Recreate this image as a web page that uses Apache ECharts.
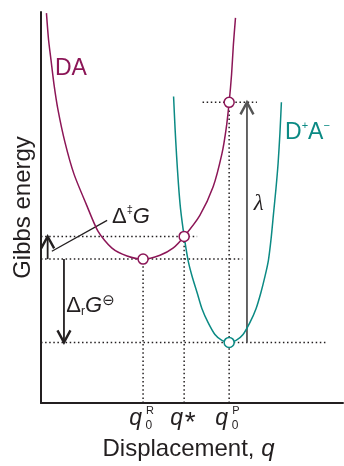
<!DOCTYPE html>
<html><head><meta charset="utf-8">
<script src="https://cdn.jsdelivr.net/npm/echarts@6/dist/echarts.min.js"></script>
<style>html,body{margin:0;padding:0;background:#fff}#c{width:344px;height:466px}</style>
</head><body><div id="c"></div>
<script>
// ---- data (arbitrary units: displacement 0-100, energy 0-100) ----
const daX = [1.8, 2.5, 3.3, 4.3, 5.6, 7.9, 10.9, 14.9, 18.9, 23.5, 28.5, 33.8, 39.4, 43.7, 47.4, 52.6, 57.0, 59.9, 61.3, 62.3, 63.1, 63.7, 64.4];
const daY = [99.7, 92.9, 87.8, 81.5, 75.1, 66.8, 58.6, 51.0, 43.9, 39.6, 37.6, 36.8, 37.8, 39.6, 42.6, 48.0, 55.3, 63.7, 70.1, 76.9, 84.0, 91.6, 98.5];
const dapX = [43.9, 44.4, 44.9, 45.5, 46.2, 47.4, 48.7, 50.0, 51.7, 53.3, 55.3, 57.6, 59.9, 62.3, 64.6, 66.9, 69.2, 71.2, 72.8, 74.2, 75.3, 76.2, 77.0, 77.8, 78.5, 79.1, 79.6];
const dapY = [78.4, 70.1, 63.2, 56.1, 49.7, 42.6, 36.5, 32.5, 28.2, 24.1, 20.6, 17.5, 16.0, 15.5, 16.0, 17.5, 20.6, 24.1, 28.2, 32.5, 36.5, 42.1, 48.5, 54.8, 61.2, 68.8, 76.9];
// marked points
const daMarkX = [33.8, 47.4, 62.3];
const daMarkY = [36.8, 42.6, 76.9];
const dapMarkX = [62.3];
const dapMarkY = [15.5];
// dotted guides
const hGuideY = [42.6, 36.8, 15.5, 76.9];
const hGuideFrom = [0, 0, 0, 53.5];
const hGuideTo = [51.7, 66.7, 94.2, 71.5];
const vGuideX = [33.8, 47.4, 62.3];
const vGuideTop = [36.8, 42.6, 76.9];
// arrows: x, from, to (head at "to")
const arrowX = [68.2, 7.6, 2.2];
const arrowFrom = [15.5, 36.8, 36.8];
const arrowTo = [76.9, 15.5, 42.6];
// leader line for the activation label
const leaderX = [3.6, 21.9];
const leaderY = [38.8, 46.7];
// x tick labels
const tickValues = [33.8, 47.4, 62.3];
const tickBase = ['q', 'q', 'q'];
const tickSub = ['0', '', '0'];
const tickSup = ['R', '*', 'P'];

const FONT = "'Liberation Sans', Arial, Helvetica, sans-serif";
const DA_COLOR = '#8c1657';
const DAP_COLOR = '#0b8a84';
const INK = '#231f20';
const GRAY = '#555555';

const chart = echarts.init(document.getElementById('c'), null, {renderer: 'canvas'});
const series = [];
hGuideY.forEach((y, i) => series.push({
  type: 'line', data: [[hGuideFrom[i], y], [hGuideTo[i], y]], symbol: 'none', silent: true, z: 1,
  lineStyle: {color: INK, width: 1.5, type: [1.5, 2.6]}
}));
vGuideX.forEach((x, i) => series.push({
  type: 'line', data: [[x, 0], [x, vGuideTop[i]]], symbol: 'none', silent: true, z: 1,
  lineStyle: {color: INK, width: 1.5, type: [1.5, 2.6]}
}));
const arrowColors = [GRAY, INK, INK];
arrowX.forEach((x, i) => series.push({
  type: 'line', data: [[x, arrowFrom[i]], [x, arrowTo[i]]], symbol: 'none', silent: true, z: 2,
  lineStyle: {color: arrowColors[i], width: 1.8}
}));
series.push({
  type: 'line', data: leaderX.map((x, i) => [x, leaderY[i]]), symbol: 'none', silent: true, z: 2,
  lineStyle: {color: INK, width: 1.3}
});
series.push({
  type: 'line', data: daX.map((x, i) => [x, daY[i]]), smooth: 0.25, symbol: 'none', z: 3,
  lineStyle: {color: DA_COLOR, width: 1.5}
});
series.push({
  type: 'line', data: dapX.map((x, i) => [x, dapY[i]]), smooth: 0.25, symbol: 'none', z: 3,
  lineStyle: {color: DAP_COLOR, width: 1.5}
});
series.push({
  type: 'scatter', data: daMarkX.map((x, i) => [x, daMarkY[i]]), symbol: 'circle', symbolSize: 10, z: 5,
  itemStyle: {color: '#fff', opacity: 1, borderColor: DA_COLOR, borderWidth: 1.5}
});
series.push({
  type: 'scatter', data: dapMarkX.map((x, i) => [x, dapMarkY[i]]), symbol: 'circle', symbolSize: 10, z: 5,
  itemStyle: {color: '#fff', opacity: 1, borderColor: DAP_COLOR, borderWidth: 1.5}
});

const option = {
  animation: false,
  backgroundColor: '#fff',
  grid: {left: 41, right: 1, top: 12, bottom: 60, containLabel: false},
  xAxis: {
    type: 'value', min: 0, max: 100,
    axisLine: {show: true, lineStyle: {color: INK, width: 2}},
    axisTick: {show: false}, axisLabel: {show: false}, splitLine: {show: false},
    name: 'Displacement, {i|q}', nameLocation: 'middle', nameGap: 34,
    nameTextStyle: {fontFamily: FONT, fontSize: 24, color: INK, padding: [0, 7, 0, 0],
      rich: {i: {fontFamily: FONT, fontSize: 24, fontStyle: 'italic', color: INK}}}
  },
  yAxis: {
    type: 'value', min: 0, max: 100,
    axisLine: {show: true, lineStyle: {color: INK, width: 2}},
    axisTick: {show: false}, axisLabel: {show: false}, splitLine: {show: false},
    name: 'Gibbs energy', nameLocation: 'middle', nameGap: 6,
    nameTextStyle: {fontFamily: FONT, fontSize: 24, color: INK}
  },
  series: series
};
chart.setOption(option);

const px = (x, y) => chart.convertToPixel({gridIndex: 0}, [x, y]);
const g = [];
function chevron(x, y, up, color) {
  const p = px(x, y);
  const h = 12, w = 6.5, d = up ? 1 : -1;
  return {type: 'polyline', silent: true, z: 10,
    shape: {points: [[p[0] - w, p[1] + d * h], [p[0], p[1]], [p[0] + w, p[1] + d * h]]},
    style: {stroke: color, lineWidth: 2.4, fill: null, lineJoin: 'miter'}};
}
arrowX.forEach((x, i) => g.push(chevron(x, arrowTo[i], arrowTo[i] > arrowFrom[i], arrowColors[i])));

function text(x, y, t, st) {
  const p = px(x, y);
  return {type: 'text', x: p[0], y: p[1], silent: true, z: 10,
    style: Object.assign({text: t, fontFamily: FONT, fontSize: 22, fill: INK, align: 'left', verticalAlign: 'middle'}, st)};
}
// curve labels
g.push(text(4.6, 85.6, 'DA', {fontSize: 23, fill: DA_COLOR}));
g.push(text(80.8, 69.1, '{n|D}{s|+}{n|A}{s|\u2212}', {fill: DAP_COLOR, rich: {
  n: {fontFamily: FONT, fontSize: 23, lineHeight: 24, fill: DAP_COLOR},
  s: {fontFamily: FONT, fontSize: 11, lineHeight: 11, verticalAlign: 'top', fill: DAP_COLOR}}}));
g.push(text(72.1, 51.0, '\u03bb', {fontFamily: "'Liberation Serif', 'DejaVu Serif', serif", fontStyle: 'italic', fontSize: 23, align: 'center'}));
g.push(text(23.5, 47.6, '{d|\u0394}{s|\u2021}{i|G}', {rich: {
  d: {fontFamily: FONT, fontSize: 22, lineHeight: 24},
  s: {fontFamily: FONT, fontSize: 11, lineHeight: 12, verticalAlign: 'top'},
  i: {fontFamily: FONT, fontSize: 22, lineHeight: 24, fontStyle: 'italic'}}}));
g.push(text(8.4, 24.8, '{d|\u0394}{r|r}{i|G}{s|\u2296}', {rich: {
  d: {fontFamily: FONT, fontSize: 22, lineHeight: 24},
  r: {fontFamily: FONT, fontSize: 12, lineHeight: 9, verticalAlign: 'bottom'},
  i: {fontFamily: FONT, fontSize: 22, lineHeight: 24, fontStyle: 'italic'},
  s: {fontFamily: "'DejaVu Sans', sans-serif", fontSize: 15, lineHeight: 16, verticalAlign: 'top'}}}));
// tick labels
tickValues.forEach((v, i) => {
  const p = px(v, 0);
  const qr = p[0] - 1;
  g.push({type: 'text', x: qr, y: p[1] + 16, silent: true, z: 10,
    style: {text: tickBase[i], fontFamily: FONT, fontSize: 23, fontStyle: 'italic', fill: INK, align: 'right', verticalAlign: 'middle'}});
  if (tickSub[i]) g.push({type: 'text', x: qr + 3.5, y: p[1] + 23, silent: true, z: 10,
    style: {text: tickSub[i], fontFamily: FONT, fontSize: 12, fill: INK, align: 'left', verticalAlign: 'middle'}});
  if (tickSup[i] === '*') g.push({type: 'text', x: qr + 1.5, y: p[1] + 20, silent: true, z: 10,
    style: {text: tickSup[i], fontFamily: FONT, fontSize: 28, fill: INK, align: 'left', verticalAlign: 'middle'}});
  else if (tickSup[i]) g.push({type: 'text', x: qr + 4, y: p[1] + 8, silent: true, z: 10,
    style: {text: tickSup[i], fontFamily: FONT, fontSize: 11, fill: INK, align: 'left', verticalAlign: 'middle'}});
});
chart.setOption({graphic: g});
</script>
</body></html>
